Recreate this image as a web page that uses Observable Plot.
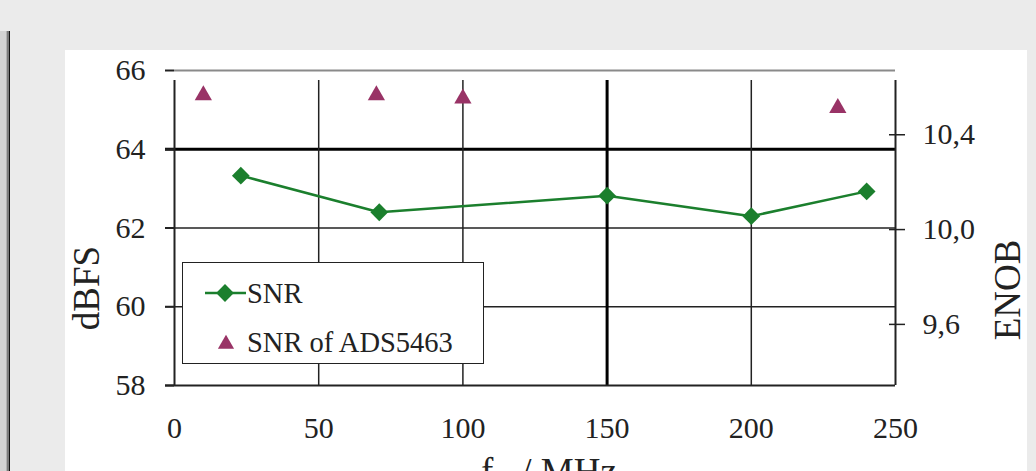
<!DOCTYPE html>
<html><head><meta charset="utf-8">
<script src="https://cdn.jsdelivr.net/npm/d3@7"></script>
<script src="https://cdn.jsdelivr.net/npm/@observablehq/plot@0.6"></script>
<style>
html,body{margin:0;padding:0;width:1036px;height:471px;overflow:hidden;background:#ebebeb;font-family:"Liberation Serif","Tinos","Times New Roman",serif;color:#222;}
.strip{position:absolute;top:31px;bottom:0;}
#panel{position:absolute;left:65px;top:50px;width:962px;height:421px;background:#fff;}
#chart{position:absolute;left:65px;top:50px;}
.title{position:absolute;white-space:nowrap;font-size:37px;line-height:37px;color:#222;}
#legend{position:absolute;left:182px;top:262px;width:300px;height:100px;border:1.5px solid #222;background:#fff;}
#legend svg{position:absolute;left:0;top:0;}
</style>
</head><body>
<div class="strip" style="left:0;width:6px;background:#d2d2d2"></div>
<div class="strip" style="left:6px;width:1px;background:#b0b0b0"></div>
<div class="strip" style="left:7px;width:2px;background:#7a7a7a"></div>
<div class="strip" style="left:9px;width:1px;background:#111"></div>
<div id="panel"></div>
<div id="chart"></div>
<div class="title" id="ylab" style="left:86px;top:288px;transform:translate(-50%,-50%) rotate(-90deg)">dBFS</div>
<div class="title" id="y2lab" style="left:1007px;top:290px;transform:translate(-50%,-50%) rotate(-90deg)">ENOB</div>
<div class="title" id="xlab" style="left:549px;top:453px;transform:translateX(-50%)">f<sub style="font-size:24px;vertical-align:-8px">in</sub> / MHz</div>
<div id="legend"></div>
<script>
// ---- data ----
const xTicks = [0, 50, 100, 150, 200, 250];
const yTicks = [58, 60, 62, 64, 66];
const enobTicks = [9.6, 10.0, 10.4];
const snrFreq = [23, 71, 150, 200, 240];
const snrDbfs = [63.33, 62.40, 62.82, 62.30, 62.93];
const adsFreq = [10, 70, 100, 230];
const adsDbfs = [65.37, 65.37, 65.29, 65.05];
const seriesNames = ["SNR", "SNR of ADS5463"];

const serif = '"Liberation Serif", "Tinos", "Times New Roman", serif';
const green = "#1b7f2d";
const purple = "#993366";
const ink = "#222";

const snr = snrFreq.map((f, i) => ({f, v: snrDbfs[i]}));
const ads = adsFreq.map((f, i) => ({f, v: adsDbfs[i]}));
const enobToDb = e => 6.02 * e + 1.76;

const chart = Plot.plot({
  width: 962, height: 460,
  marginLeft: 109, marginRight: 132, marginTop: 20, marginBottom: 125,
  x: {domain: [0, 250]},
  y: {domain: [58, 66]},
  style: {fontFamily: serif, fontSize: "30px", color: ink, background: "transparent", overflow: "visible"},
  marks: [
    Plot.ruleY([66], {stroke: "#8a8a8a", strokeWidth: 2}),
    Plot.ruleY([60, 62], {stroke: ink, strokeWidth: 1.5, insetLeft: -9}),
    Plot.ruleY([64], {stroke: "#000", strokeWidth: 3, insetLeft: -9}),
    Plot.ruleX([50, 100, 200], {y1: 58, y2: 66, stroke: ink, strokeWidth: 1.5, insetBottom: -10}),
    Plot.ruleX([150], {y1: 58, y2: 66, stroke: "#000", strokeWidth: 3, insetBottom: -10}),
    Plot.ruleX([0, 250], {y1: 58, y2: 66, stroke: ink, strokeWidth: 2, insetBottom: -10}),
    Plot.ruleY([58], {stroke: ink, strokeWidth: 2, insetLeft: -9}),
    Plot.axisY({ticks: yTicks, tickSize: 9, tickPadding: 20, stroke: ink, strokeWidth: 2, fill: ink, label: null, tickFormat: d => String(d)}),
    Plot.axisX({ticks: xTicks, tickSize: 0, tickPadding: 31, fill: ink, label: null, tickFormat: d => String(d)}),
    Plot.ruleY(enobTicks, {y: enobToDb, x1: 250, x2: 250, insetLeft: -6, insetRight: -10, stroke: ink, strokeWidth: 1.5}),
    Plot.text(enobTicks, {y: enobToDb, frameAnchor: "right", dx: 27, textAnchor: "start", fill: ink, fontSize: 30,
      text: e => e.toFixed(1).replace(".", ",")}),
    Plot.line(snr, {x: "f", y: "v", stroke: green, strokeWidth: 2.5}),
    Plot.dot(snr, {x: "f", y: "v", symbol: "diamond2", r: 8, fill: green}),
    Plot.dot(ads, {x: "f", y: "v", symbol: "triangle", r: 6.4, fill: purple})
  ]
});
document.getElementById("chart").appendChild(chart);

// legend
const lg = d3.select("#legend").append("svg").attr("width", 300).attr("height", 100)
  .style("font-family", serif).style("font-size", "28.5px");
lg.append("line").attr("x1", 22).attr("x2", 63).attr("y1", 30).attr("y2", 30).attr("stroke", green).attr("stroke-width", 2.5);
lg.append("path").attr("d", d3.symbol(d3.symbolDiamond2, 8 * 8 * Math.PI)()).attr("transform", "translate(42,30)").attr("fill", green);
lg.append("text").attr("x", 64).attr("y", 40).attr("fill", ink).text(seriesNames[0]);
lg.append("path").attr("d", d3.symbol(d3.symbolTriangle, 6 * 6 * Math.PI)()).attr("transform", "translate(43,81)").attr("fill", purple);
lg.append("text").attr("x", 64).attr("y", 89).attr("fill", ink).text(seriesNames[1]);
</script>
</body></html>
